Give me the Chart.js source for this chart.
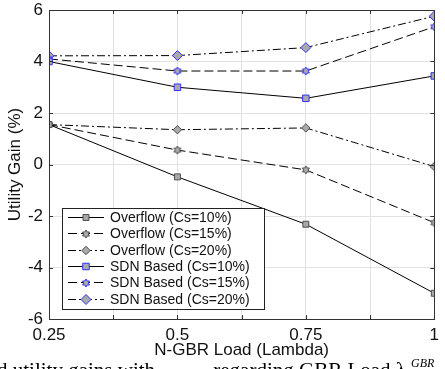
<!DOCTYPE html>
<html>
<head>
<meta charset="utf-8">
<script src="https://cdn.jsdelivr.net/npm/chart.js"></script>
<style>
  html, body { margin: 0; padding: 0; background: #fff; overflow: hidden; }
  canvas { display: block; }
</style>
</head>
<body>
<canvas id="chart" width="445" height="369"></canvas>
<script>
// N-GBR load values (x axis)
const loads = [0.25, 0.5, 0.75, 1];
const xTickLabels = ['0.25', '0.5', '0.75', '1'];
const yTicks = [-6, -4, -2, 0, 2, 4, 6];

// utility gain (%) per series
const overflow10 = [1.55, -0.48, -2.32, -5.0];
const overflow15 = [1.55, 0.56, -0.21, -2.26];
const overflow20 = [1.55, 1.35, 1.42, -0.08];
const sdn10 = [4.0, 3.0, 2.57, 3.44];
const sdn15 = [4.1, 3.63, 3.63, 5.35];
const sdn20 = [4.22, 4.23, 4.54, 5.76];

const seriesNames = [
  'Overflow (Cs=10%)', 'Overflow (Cs=15%)', 'Overflow (Cs=20%)',
  'SDN Based (Cs=10%)', 'SDN Based (Cs=15%)', 'SDN Based (Cs=20%)'
];

var FONT = '"Liberation Sans", Arial, sans-serif';
var markerFill = '#a9a9a9';
var greyEdge = '#4d4d4d';
var blueEdge = '#3030ff';
var dashed = [9, 4];
var dashDot = [8, 3, 2, 3];

// small hexagram marker (matlab style)
function hexagram( fill, stroke ) {
  var c = document.createElement('canvas');
  c.width = 10; c.height = 10;
  var g = c.getContext('2d');
  var cx = 5, cy = 5, r = 4;
  g.beginPath();
  for ( var k = 0; k < 12; k++ ) {
    var rr = ( k % 2 == 0 ) ? r : r * 0.58;
    var a = -Math.PI / 2 + k * Math.PI / 6;
    var px = cx + rr * Math.cos(a), py = cy + rr * Math.sin(a);
    if ( k == 0 ) g.moveTo(px, py); else g.lineTo(px, py);
  }
  g.closePath();
  g.fillStyle = fill;
  g.fill();
  g.lineWidth = 1;
  g.strokeStyle = stroke;
  g.stroke();
  return c;
}

function points( ys ) {
  return loads.map(function(x, i){ return { x: x, y: ys[i] }; });
}

function series( label, ys, dash, style, radius, edge ) {
  return {
    label: label,
    data: points(ys),
    borderColor: '#000',
    borderWidth: 1,
    borderDash: dash,
    pointStyle: style,
    pointRadius: radius,
    pointHoverRadius: radius,
    pointBackgroundColor: markerFill,
    pointBorderColor: edge,
    pointBorderWidth: 1,
    tension: 0,
    fill: false
  };
}

const datasets = [
  series(seriesNames[0], overflow10, [], 'rect', 4.2, greyEdge),
  series(seriesNames[1], overflow15, dashed, hexagram(markerFill, greyEdge), 4, greyEdge),
  series(seriesNames[2], overflow20, dashDot, 'rectRot', 4.2, greyEdge),
  series(seriesNames[3], sdn10, [], 'rect', 4.6, blueEdge),
  series(seriesNames[4], sdn15, dashed, hexagram(markerFill, blueEdge), 4, blueEdge),
  series(seriesNames[5], sdn20, dashDot, 'rectRot', 5, blueEdge)
];

function drawMarker( ctx, style, x, y, r, fill, edge ) {
  ctx.save();
  ctx.setLineDash([]);
  ctx.fillStyle = fill;
  ctx.strokeStyle = edge;
  ctx.lineWidth = 1;
  if ( style instanceof HTMLCanvasElement ) {
    ctx.drawImage(style, Math.round(x - style.width / 2), Math.round(y - style.height / 2));
  } else {
    ctx.beginPath();
    if ( style == 'rect' ) {
      var s = r * Math.SQRT1_2;
      ctx.rect(x - s, y - s, 2 * s, 2 * s);
    } else {
      ctx.moveTo(x - r, y);
      ctx.lineTo(x, y - r);
      ctx.lineTo(x + r, y);
      ctx.lineTo(x, y + r);
      ctx.closePath();
    }
    ctx.fill();
    ctx.stroke();
  }
  ctx.restore();
}

// axes box, inward ticks, boxed legend and the cut caption line
const decorations = {
  id: 'decorations',
  afterDraw: function( chart ) {
    var ctx = chart.ctx;
    var a = chart.chartArea;
    var xs = chart.scales.x, ys = chart.scales.y;
    ctx.save();

    ctx.strokeStyle = '#333';
    ctx.lineWidth = 1;
    ctx.strokeRect(Math.round(a.left) + 0.5, Math.round(a.top) + 0.5,
      Math.round(a.right - a.left), Math.round(a.bottom - a.top));

    ctx.beginPath();
    xs.ticks.forEach(function(t){
      var px = Math.round(xs.getPixelForValue(t.value)) + 0.5;
      ctx.moveTo(px, a.bottom); ctx.lineTo(px, a.bottom - 4);
      ctx.moveTo(px, a.top); ctx.lineTo(px, a.top + 4);
    });
    ys.ticks.forEach(function(t){
      var py = Math.round(ys.getPixelForValue(t.value)) + 0.5;
      ctx.moveTo(a.left, py); ctx.lineTo(a.left + 4, py);
      ctx.moveTo(a.right, py); ctx.lineTo(a.right - 4, py);
    });
    ctx.stroke();

    // legend
    var lx = 62, ly = 208, lw = 202, lh = 101, rowH = 16.3;
    ctx.fillStyle = '#fff';
    ctx.fillRect(lx, ly, lw, lh);
    ctx.strokeStyle = '#222';
    ctx.strokeRect(lx + 0.5, ly + 0.5, lw, lh);
    ctx.font = '14px ' + FONT;
    ctx.textBaseline = 'middle';
    ctx.textAlign = 'left';
    chart.data.datasets.forEach(function(ds, i){
      var cy = Math.round(ly + 9 + i * rowH) + 0.5;
      ctx.beginPath();
      ctx.setLineDash(ds.borderDash);
      ctx.strokeStyle = '#000';
      ctx.moveTo(68, cy);
      ctx.lineTo(104, cy);
      ctx.stroke();
      ctx.setLineDash([]);
      drawMarker(ctx, ds.pointStyle, 86, cy, ds.pointRadius, ds.pointBackgroundColor, ds.pointBorderColor);
      ctx.fillStyle = '#111';
      ctx.fillText(ds.label, 110, cy + 1);
    });

    // caption line of the paper, cut by the bottom edge
    ctx.fillStyle = '#000';
    ctx.textBaseline = 'alphabetic';
    ctx.font = '21px "Liberation Serif", "Times New Roman", serif';
    ctx.textAlign = 'left';
    ctx.fillText('d utility gains with', -3, 377);
    ctx.textAlign = 'right';
    ctx.fillText('regarding GBR Load \u03bb', 406, 377);
    ctx.textAlign = 'left';
    ctx.font = 'italic 12px "Liberation Serif", "Times New Roman", serif';
    ctx.fillText('GBR', 411, 367);

    ctx.restore();
  }
};

var ctx = document.getElementById('chart').getContext('2d');
new Chart( ctx, {
  type: 'line',
  data: { datasets: datasets },
  options: {
    responsive: false,
    animation: false,
    devicePixelRatio: 1,
    layout: { padding: { left: 0, right: 2, top: 0, bottom: 0 } },
    plugins: {
      legend: { display: false },
      tooltip: { enabled: false }
    },
    scales: {
      x: {
        type: 'linear',
        min: 0.25,
        max: 1,
        afterFit: function(scale){ scale.height = 50; },
        grid: { color: '#e2e2e2', drawTicks: false },
        border: { display: true, color: '#333' },
        ticks: {
          stepSize: 0.125,
          autoSkip: false,
          maxRotation: 0,
          padding: 6,
          color: '#111',
          font: { family: FONT, size: 17 },
          callback: function(v){
            var i = loads.findIndex(function(l){ return Math.abs(l - v) < 1e-6; });
            return i >= 0 ? xTickLabels[i] : '';
          }
        },
        title: {
          display: true,
          text: 'N-GBR Load (Lambda)',
          color: '#111',
          font: { family: FONT, size: 17 },
          padding: { top: 0, bottom: 8 }
        }
      },
      y: {
        min: yTicks[0],
        max: yTicks[yTicks.length - 1],
        afterFit: function(scale){
          scale.width = 49;
          scale.paddingTop = 10;
          scale.paddingBottom = 0;
        },
        grid: { color: '#e2e2e2', drawTicks: false },
        border: { display: true, color: '#333' },
        ticks: {
          stepSize: 2,
          padding: 6,
          color: '#111',
          font: { family: FONT, size: 17 }
        },
        title: {
          display: true,
          text: 'Utility Gain (%)',
          color: '#111',
          font: { family: FONT, size: 17 },
          padding: { top: 5, bottom: 0 }
        }
      }
    }
  },
  plugins: [decorations]
});
</script>
</body>
</html>
